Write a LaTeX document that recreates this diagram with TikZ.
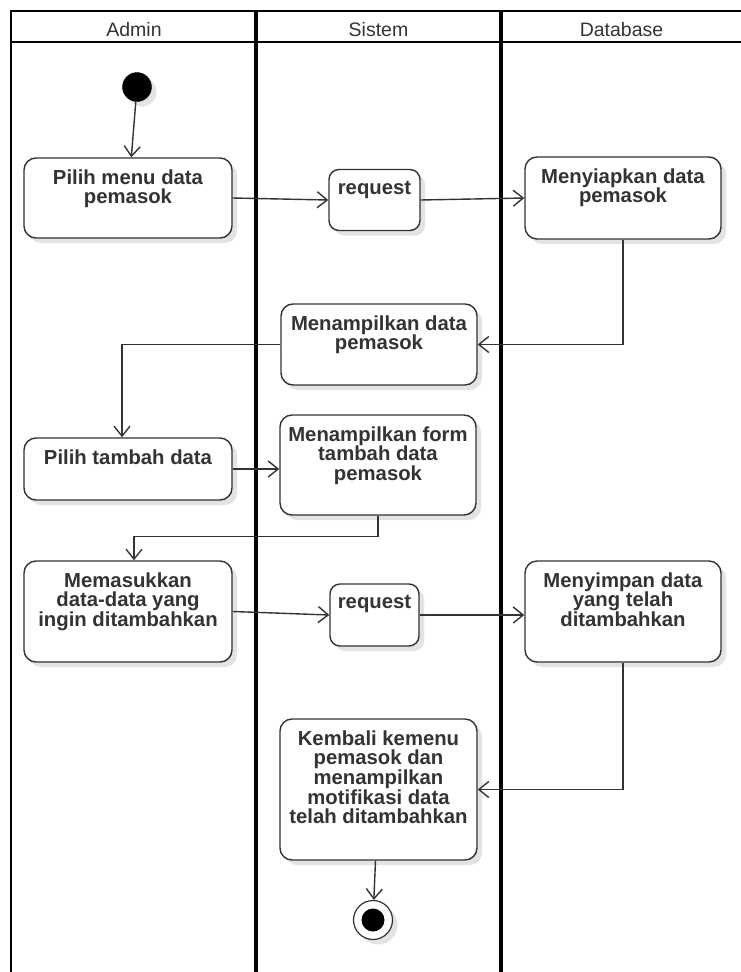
\documentclass[tikz,border=0pt]{standalone}
\usepackage{fontspec}
\setmainfont{Liberation Sans}
\usetikzlibrary{arrows.meta,shadows}
\definecolor{ink}{HTML}{333333}
\begin{document}
\begin{tikzpicture}[x=1pt,y=-1pt,
  softshadow/.style={drop shadow={shadow xshift=5pt,shadow yshift=-5pt,fill=black,opacity=0.11}},
  act/.style={draw=ink, line width=1.4pt, fill=white, rounded corners=12pt,
              inner sep=0pt, softshadow},
  acttext/.style={anchor=north, align=center, text=ink, inner sep=0pt, yshift=-12pt,
                  font=\bfseries\fontsize{20.3}{19.6}\selectfont},
  flow/.style={draw=ink, line width=1.4pt, -{Straight Barb[length=10pt,width=16pt]}},
  border/.style={draw=black, line width=2.8pt},
  divider/.style={draw=black, line width=4pt},
  lanehead/.style={anchor=base, text=ink, inner sep=0pt, font=\fontsize{19.5}{19.5}\selectfont},
  startnode/.style={circle, fill=black, draw=black, minimum size=29pt, inner sep=0pt, softshadow},
  endouter/.style={circle, fill=white, draw=ink, line width=1.2pt, minimum size=39pt, inner sep=0pt, softshadow},
  endinner/.style={circle, fill=black, minimum size=23pt, inner sep=0pt}
]
\useasboundingbox (0,0) rectangle (741,972);
\clip (0,0) rectangle (741,972);

% swimlane frame
\draw[border] (745,11) -- (11,11) -- (11,980);
\draw[border] (11,42) -- (745,42);
\draw[divider] (256,11) -- (256,980);
\draw[divider] (501,11) -- (501,980);

\node[lanehead] (hAdmin) at (134,36) {Admin};
\node[lanehead] (hSistem) at (378.5,36) {Sistem};
\node[lanehead] (hDb) at (621.5,36) {Database};

% initial and final states
\node[startnode] (start) at (137,87) {};
\node[endouter] (end) at (373,920) {};
\node[endinner] (endin) at (end) {};

% actions
\node[act, minimum width=208pt, minimum height=80pt] (b1) at (128,198) {};
\node[acttext] (t1) at (b1.north) {Pilih menu data\\pemasok};

\node[act, rounded corners=10pt, minimum width=91pt, minimum height=61pt] (r1) at (374.5,200) {};
\node[acttext] (tr1) at (r1.north) {request};

\node[act, minimum width=196pt, minimum height=82pt] (b2) at (623,198) {};
\node[acttext] (t2) at (b2.north) {Menyiapkan data\\pemasok};

\node[act, minimum width=196pt, minimum height=81pt] (b3) at (379,344.5) {};
\node[acttext] (t3) at (b3.north) {Menampilkan data\\pemasok};

\node[act, minimum width=208pt, minimum height=62pt] (b4) at (128,469) {};
\node[acttext] (t4) at (b4.north) {Pilih tambah data};

\node[act, minimum width=196pt, minimum height=100pt] (b5) at (378,465) {};
\node[acttext] (t5) at (b5.north) {Menampilkan form\\tambah data\\pemasok};

\node[act, minimum width=208pt, minimum height=101pt] (b6) at (128,611.5) {};
\node[acttext] (t6) at (b6.north) {Memasukkan\\data-data yang\\ingin ditambahkan};

\node[act, rounded corners=10pt, minimum width=89pt, minimum height=62pt] (r2) at (374.5,615) {};
\node[acttext] (tr2) at (r2.north) {request};

\node[act, minimum width=196pt, minimum height=101pt] (b7) at (623,611.5) {};
\node[acttext] (t7) at (b7.north) {Menyimpan data\\yang telah\\ditambahkan};

\node[act, minimum width=197pt, minimum height=141pt] (b8) at (378.5,789.5) {};
\node[acttext] (t8) at (b8.north) {Kembali kemenu\\pemasok dan\\menampilkan\\motifikasi data\\telah ditambahkan};

% control flow
\draw[flow] (start) -- (b1);
\draw[flow] (b1.east) -- (r1.west);
\draw[flow] (r1.east) -- (b2.west);
\draw[flow] (b2.south) |- (b3.east);
\draw[flow] (b3.west) -| ([xshift=-6pt]b4.north);
\draw[flow] (b4.east) -- (b4.east -| b5.west);
\draw[flow] (b5.south) -- ++(0,21) -| ([xshift=6pt]b6.north);
\draw[flow] (b6.east) -- (r2.west);
\draw[flow] (r2.east) -- (r2.east -| b7.west);
\draw[flow] (b7.south) |- (b8.east);
\draw[flow] ([xshift=-3pt]b8.south) -- (end);
\end{tikzpicture}
\end{document}
